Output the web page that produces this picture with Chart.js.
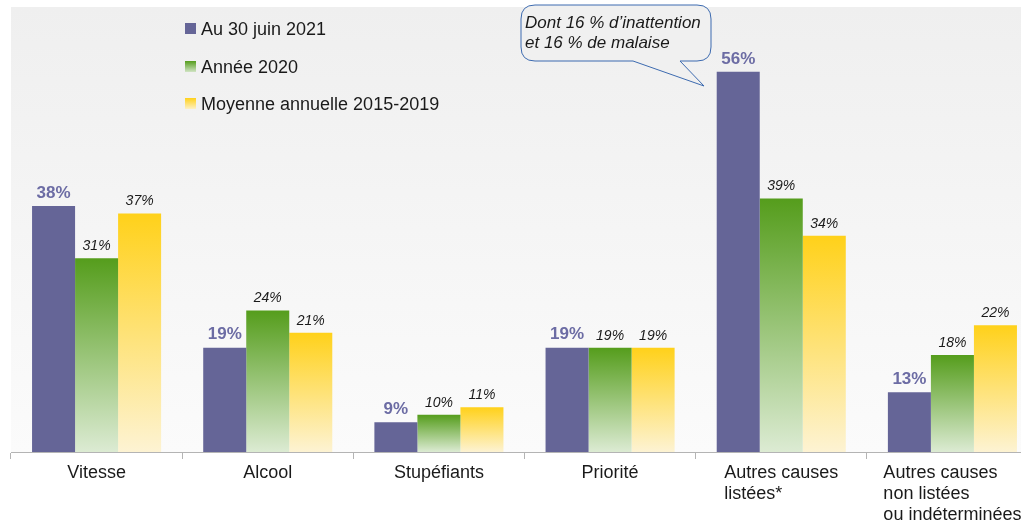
<!DOCTYPE html>
<html>
<head>
<meta charset="utf-8">
<script src="https://cdn.jsdelivr.net/npm/chart.js@4/dist/chart.umd.min.js"></script>
<style>
  html, body { margin: 0; padding: 0; background: #ffffff; }
  #clip { width: 1021px; height: 523px; overflow: hidden; position: relative; }
  #wrap { width: 1038px; height: 523px; position: relative; }
</style>
</head>
<body>
<div id="clip"><div id="wrap"><canvas id="causes-chart"></canvas></div></div>
<script>
const categories = ["Vitesse", "Alcool", "Stupéfiants", "Priorité", ["Autres causes", "listées*"], ["Autres causes", "non listées", "ou indéterminées"]];
const seriesNames = ["Au 30 juin 2021", "Année 2020", "Moyenne annuelle 2015-2019"];
const juin2021 = [38, 19, 9, 19, 56, 13];
const annee2020 = [31, 24, 10, 19, 39, 18];
const moyenne = [37, 21, 11, 19, 34, 22];
const calloutLines = ["Dont 16 % d’inattention", "et 16 % de malaise"];

const FONT = "'Liberation Sans', Arial, sans-serif";
const PURPLE = "#656597";
const GREEN = ["#559d1c", "#dcebd3"];
const YELLOW = ["#ffd11a", "#fdf3d3"];

function gradientFill(stops, fallback) {
	return function (ctx) {
		const chart = ctx.chart;
		const area = chart.chartArea;
		if (!area || ctx.type !== "data") return fallback;
		const top = chart.scales.y.getPixelForValue(ctx.raw);
		const g = chart.ctx.createLinearGradient(0, top, 0, area.bottom);
		g.addColorStop(0, stops[0]);
		g.addColorStop(1, stops[1]);
		return g;
	};
}

const backgroundPlugin = {
	id: "plotBackground",
	beforeDraw(chart) {
		const { ctx, chartArea: a } = chart;
		const g = ctx.createLinearGradient(0, a.top, 0, a.bottom);
		g.addColorStop(0, "#efefef");
		g.addColorStop(1, "#fbfbfb");
		ctx.save();
		ctx.fillStyle = g;
		ctx.fillRect(a.left, a.top, a.right - a.left, a.bottom - a.top);
		ctx.restore();
	},
};

const overlayPlugin = {
	id: "overlay",
	afterDatasetsDraw(chart) {
		const ctx = chart.ctx;
		ctx.save();
		// value labels
		chart.data.datasets.forEach((ds, i) => {
			const meta = chart.getDatasetMeta(i);
			meta.data.forEach((bar, j) => {
				ctx.textAlign = "center";
				ctx.textBaseline = "middle";
				if (i === 0) {
					ctx.font = "bold 17px " + FONT;
					ctx.fillStyle = "#6c6ca4";
					ctx.fillText(ds.data[j] + "%", bar.x, bar.y - 13);
				} else {
					ctx.font = "italic 14px " + FONT;
					ctx.fillStyle = "#1a1a1a";
					ctx.fillText(ds.data[j] + "%", bar.x, bar.y - 12);
				}
			});
		});

		// category labels, multi-line ones as a left-aligned block
		const xs = chart.scales.x;
		ctx.font = "18px " + FONT;
		ctx.fillStyle = "#1a1a1a";
		ctx.textBaseline = "middle";
		chart.data.labels.forEach((lab, i) => {
			const lines = Array.isArray(lab) ? lab : [lab];
			const cx = xs.getPixelForValue(i);
			const w = Math.max(...lines.map((s) => ctx.measureText(s).width));
			lines.forEach((s, k) => {
				if (lines.length > 1) {
					ctx.textAlign = "left";
					ctx.fillText(s, cx - w / 2, 473 + k * 21);
				} else {
					ctx.textAlign = "center";
					ctx.fillText(s, cx, 473);
				}
			});
		});

		// legend
		const fills = [PURPLE, GREEN, YELLOW];
		const rows = [29, 67, 104];
		seriesNames.forEach((name, i) => {
			const y = rows[i];
			const f = fills[i];
			if (Array.isArray(f)) {
				const g = ctx.createLinearGradient(0, y - 6, 0, y + 6);
				g.addColorStop(0, f[0]);
				g.addColorStop(1, f[1]);
				ctx.fillStyle = g;
			} else {
				ctx.fillStyle = f;
			}
			ctx.fillRect(185, y - 6, 11, 11);
			ctx.font = "18px " + FONT;
			ctx.fillStyle = "#1a1a1a";
			ctx.textAlign = "left";
			ctx.textBaseline = "middle";
			ctx.fillText(name, 201, y + 1);
		});

		// callout bubble
		const L = 521, T = 5, R = 711, B = 61, r = 14;
		ctx.beginPath();
		ctx.moveTo(L + r, T);
		ctx.lineTo(R - r, T);
		ctx.quadraticCurveTo(R, T, R, T + r);
		ctx.lineTo(R, B - r);
		ctx.quadraticCurveTo(R, B, R - r, B);
		ctx.lineTo(680, B);
		ctx.lineTo(704, 86);
		ctx.lineTo(633, B);
		ctx.lineTo(L + r, B);
		ctx.quadraticCurveTo(L, B, L, B - r);
		ctx.lineTo(L, T + r);
		ctx.quadraticCurveTo(L, T, L + r, T);
		ctx.closePath();
		ctx.fillStyle = "#f0f0f0";
		ctx.fill();
		ctx.strokeStyle = "#3d6bb0";
		ctx.lineWidth = 1;
		ctx.stroke();
		ctx.font = "italic 17px " + FONT;
		ctx.fillStyle = "#1a1a1a";
		ctx.textAlign = "left";
		ctx.textBaseline = "middle";
		ctx.fillText(calloutLines[0], 525, 23);
		ctx.fillText(calloutLines[1], 525, 43);
		ctx.restore();
	},
};

new Chart(document.getElementById("causes-chart"), {
	type: "bar",
	data: {
		labels: categories,
		datasets: [
			{ label: seriesNames[0], data: juin2021, backgroundColor: PURPLE },
			{ label: seriesNames[1], data: annee2020, backgroundColor: gradientFill(GREEN, GREEN[0]) },
			{ label: seriesNames[2], data: moyenne, backgroundColor: gradientFill(YELLOW, YELLOW[0]) },
		],
	},
	options: {
		responsive: true,
		maintainAspectRatio: false,
		animation: false,
		layout: { padding: { left: 11, top: 7, right: 0, bottom: 0 } },
		datasets: { bar: { categoryPercentage: 0.754, barPercentage: 1.0, borderWidth: 0 } },
		plugins: {
			legend: { display: false },
			tooltip: { enabled: false },
		},
		scales: {
			x: {
				grid: { offset: true, drawOnChartArea: false, drawTicks: true, tickLength: 7, color: "#b4b4b4" },
				border: { display: true, color: "#b4b4b4", width: 1 },
				ticks: { display: false },
				afterFit(scale) {
					scale.height = 71;
				},
			},
			y: {
				display: false,
				min: 5,
				max: 64.7,
			},
		},
	},
	plugins: [backgroundPlugin, overlayPlugin],
});
</script>
</body>
</html>
